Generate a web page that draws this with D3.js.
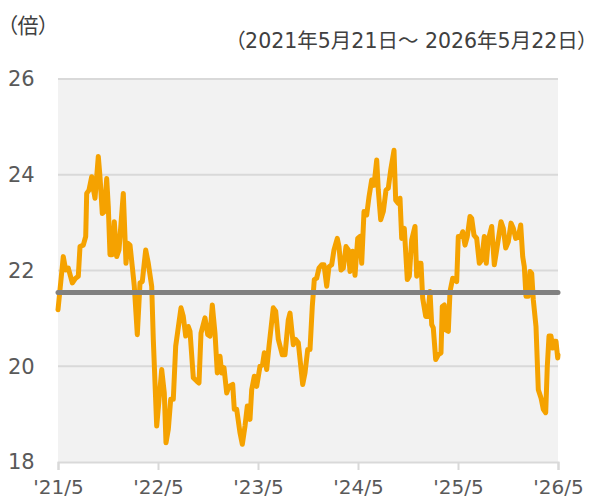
<!DOCTYPE html>
<html>
<head>
<meta charset="utf-8">
<script src="https://cdn.jsdelivr.net/npm/d3@7"></script>
<style>
  html, body { margin: 0; padding: 0; background: #fff; overflow: hidden; }
  svg { display: block; }
</style>
</head>
<body>
<div id="chart"></div>
<script>
// Years elapsed since 2021/5/21 and the P/E multiple read at that point
const YEARS = [
  0.000, 0.053, 0.077, 0.103, 0.143, 0.177, 0.203, 0.220, 0.253, 0.277,
  0.287, 0.310, 0.337, 0.350, 0.370, 0.403, 0.420, 0.443, 0.463, 0.487,
  0.503, 0.520, 0.543, 0.563, 0.587, 0.610, 0.653, 0.680, 0.697, 0.720,
  0.743, 0.763, 0.793, 0.820, 0.843, 0.877, 0.903, 0.937, 0.953, 0.987,
  1.037, 1.063, 1.080, 1.103, 1.127, 1.153, 1.177, 1.230, 1.253, 1.277,
  1.303, 1.320, 1.353, 1.387, 1.410, 1.430, 1.470, 1.497, 1.520, 1.543,
  1.570, 1.593, 1.620, 1.637, 1.660, 1.687, 1.710, 1.747, 1.763, 1.787,
  1.820, 1.843, 1.870, 1.893, 1.920, 1.937, 1.963, 1.987, 2.020, 2.045,
  2.063, 2.087, 2.110, 2.153, 2.177, 2.203, 2.243, 2.270, 2.303, 2.320,
  2.353, 2.377, 2.403, 2.447, 2.470, 2.497, 2.520, 2.543, 2.563, 2.587,
  2.610, 2.637, 2.660, 2.687, 2.710, 2.737, 2.760, 2.793, 2.810, 2.830,
  2.853, 2.880, 2.903, 2.920, 2.947, 2.970, 2.997, 3.020, 3.037, 3.060,
  3.087, 3.110, 3.137, 3.160, 3.187, 3.203, 3.227, 3.253, 3.280, 3.303,
  3.327, 3.360, 3.377, 3.403, 3.420, 3.437, 3.463, 3.493, 3.513, 3.537,
  3.570, 3.587, 3.610, 3.630, 3.647, 3.677, 3.697, 3.720, 3.737, 3.753,
  3.777, 3.803, 3.830, 3.843, 3.863, 3.877, 3.903, 3.920, 3.947, 3.970,
  3.987, 4.003, 4.030, 4.047, 4.070, 4.093, 4.120, 4.137, 4.160, 4.187,
  4.213, 4.237, 4.263, 4.283, 4.303, 4.337, 4.363, 4.387, 4.430, 4.453,
  4.477, 4.503, 4.530, 4.553, 4.577, 4.603, 4.627, 4.647, 4.663, 4.680,
  4.703, 4.720, 4.737, 4.753, 4.780, 4.803, 4.830, 4.853, 4.877, 4.893,
  4.910, 4.930, 4.947, 4.963, 4.980, 4.997, 5.000
];

const PER = [
  21.18, 22.29, 22.01, 22.05, 21.74, 21.84, 21.88, 22.50, 22.53, 22.71,
  23.61, 23.68, 23.96, 23.75, 23.51, 24.38, 23.96, 23.19, 23.23, 23.92,
  23.33, 22.33, 22.33, 23.02, 22.29, 22.43, 23.61, 22.15, 22.57, 22.53,
  22.08, 21.67, 20.66, 21.74, 21.77, 22.43, 22.15, 21.67, 20.56, 18.75,
  19.93, 19.44, 18.40, 18.68, 19.31, 19.31, 20.42, 21.22, 21.04, 20.63,
  20.83, 20.73, 19.76, 19.69, 19.65, 20.69, 21.01, 20.66, 20.63, 21.28,
  20.69, 19.86, 20.21, 19.86, 19.97, 19.44, 19.58, 19.62, 19.10, 19.10,
  18.61, 18.37, 18.75, 19.17, 18.89, 19.51, 19.79, 19.58, 20.00, 20.03,
  20.28, 19.93, 20.42, 21.22, 21.15, 20.56, 20.24, 20.24, 20.97, 21.11,
  20.45, 20.56, 20.49, 19.62, 19.86, 20.35, 20.35, 21.25, 21.81, 21.84,
  22.05, 22.12, 22.12, 21.67, 22.08, 22.12, 22.43, 22.67, 22.50, 22.01,
  22.05, 22.50, 22.43, 21.98, 22.40, 21.90, 22.67, 22.71, 22.15, 23.23,
  23.16, 23.54, 23.89, 23.78, 24.31, 23.68, 23.06, 23.23, 23.68, 23.72,
  24.10, 24.51, 23.47, 23.40, 23.51, 22.67, 22.88, 21.81, 21.88, 22.64,
  22.92, 21.88, 22.15, 22.15, 21.42, 21.04, 21.04, 21.56, 20.87, 20.80,
  20.14, 20.24, 20.28, 21.25, 21.28, 20.76, 20.73, 21.56, 21.84, 21.81,
  21.77, 22.71, 22.71, 22.81, 22.53, 22.71, 23.13, 23.09, 22.74, 22.67,
  22.15, 22.22, 22.71, 22.15, 22.64, 22.92, 22.12, 22.43, 23.02, 22.88,
  22.47, 22.60, 22.99, 22.88, 22.67, 22.71, 22.95, 22.29, 22.08, 21.46,
  21.46, 21.98, 21.94, 21.39, 20.83, 19.51, 19.34, 19.10, 19.03, 20.00,
  20.63, 20.63, 20.38, 20.52, 20.52, 20.17, 20.24
];

const AVERAGE = 21.54;

const Y_TICKS = [18, 20, 22, 24, 26];
const X_TICKS = [0, 1, 2, 3, 4, 5];
const X_LABELS = ["'21/5", "'22/5", "'23/5", "'24/5", "'25/5", "'26/5"];
const UNIT_LABEL = '（倍）';
const PERIOD_LABEL = '（2021年5月21日～ 2026年5月22日）';

const width = 590;
const height = 502;
const margin = { top: 79, right: 32, bottom: 40, left: 58 };
const innerWidth = width - margin.left - margin.right;
const innerHeight = height - margin.top - margin.bottom;

const FONT = "'DejaVu Sans', 'Noto Sans CJK JP', sans-serif";

const svg = d3.select('#chart')
  .append('svg')
  .attr('width', width)
  .attr('height', height)
  .style('font-family', FONT);

const g = svg.append('g')
  .attr('transform', `translate(${margin.left},${margin.top})`);

const xScale = d3.scaleLinear().domain([0, 5]).range([0, innerWidth]);
const yScale = d3.scaleLinear().domain([18, 26]).range([innerHeight, 0]);

// Plot background
g.append('rect')
  .attr('width', innerWidth)
  .attr('height', innerHeight)
  .attr('fill', '#f2f2f2');

// Horizontal grid lines
g.selectAll('.grid-line')
  .data(Y_TICKS.filter(d => d !== 18))
  .join('line')
  .attr('class', 'grid-line')
  .attr('x1', 0)
  .attr('x2', innerWidth)
  .attr('y1', d => yScale(d))
  .attr('y2', d => yScale(d))
  .attr('stroke', '#d9d9d9')
  .attr('stroke-width', 2);

// X axis
const xAxis = d3.axisBottom(xScale)
  .tickValues(X_TICKS)
  .tickSize(8)
  .tickPadding(10)
  .tickFormat((d, i) => X_LABELS[i]);

const xAxisG = g.append('g')
  .attr('transform', `translate(0,${innerHeight})`)
  .call(xAxis);
xAxisG.select('.domain').attr('stroke', '#d9d9d9').attr('stroke-width', 2);
xAxisG.selectAll('.tick line').attr('stroke', '#d9d9d9').attr('stroke-width', 2);
xAxisG.selectAll('.tick text')
  .attr('fill', '#595959')
  .style('font-family', FONT)
  .style('font-size', '20px');

// Y labels (left aligned at the page edge)
svg.selectAll('.y-label')
  .data(Y_TICKS)
  .join('text')
  .attr('class', 'y-label')
  .attr('x', 8)
  .attr('y', d => margin.top + yScale(d))
  .attr('dy', '0.35em')
  .attr('fill', '#595959')
  .style('font-size', '21px')
  .text(d => d);

// P/E line
const line = d3.line()
  .x((d, i) => xScale(YEARS[i]))
  .y(d => yScale(d));

g.append('path')
  .datum(PER)
  .attr('d', line)
  .attr('fill', 'none')
  .attr('stroke', '#f5a200')
  .attr('stroke-width', 5)
  .attr('stroke-linejoin', 'round')
  .attr('stroke-linecap', 'round');

// 5-year average
g.append('line')
  .attr('x1', xScale(0))
  .attr('x2', xScale(5))
  .attr('y1', yScale(AVERAGE))
  .attr('y2', yScale(AVERAGE))
  .attr('stroke', '#808080')
  .attr('stroke-width', 5)
  .attr('stroke-linecap', 'round');

// Unit and period (proportional CJK punctuation)
svg.append('text')
  .attr('x', 7)
  .attr('y', 33)
  .attr('fill', '#404040')
  .style('font-family', "'Noto Sans CJK JP', sans-serif")
  .style('font-feature-settings', "'palt'")
  .style('font-size', '21px')
  .text(UNIT_LABEL);

svg.append('text')
  .attr('x', 588)
  .attr('y', 48)
  .attr('text-anchor', 'end')
  .attr('fill', '#404040')
  .style('font-feature-settings', "'palt'")
  .style('font-size', '20.5px')
  .text(PERIOD_LABEL);
</script>
</body>
</html>
